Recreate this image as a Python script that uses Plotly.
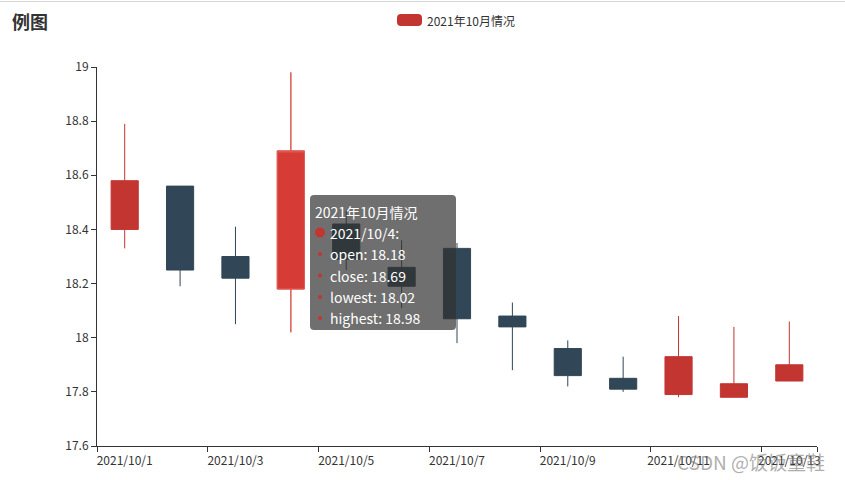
import plotly.graph_objects as go

# ---- data -------------------------------------------------------------
dates = [
    "2021/10/1", "2021/10/2", "2021/10/3", "2021/10/4", "2021/10/5",
    "2021/10/6", "2021/10/7", "2021/10/8", "2021/10/9", "2021/10/10",
    "2021/10/11", "2021/10/12", "2021/10/13",
]
open_prices = [18.40, 18.56, 18.30, 18.18, 18.42, 18.26, 18.33, 18.08, 17.96, 17.85, 17.79, 17.78, 17.84]
close_prices = [18.58, 18.25, 18.22, 18.69, 18.29, 18.19, 18.07, 18.04, 17.86, 17.81, 17.93, 17.83, 17.90]
lowest = [18.33, 18.19, 18.05, 18.02, 18.25, 18.11, 17.98, 17.88, 17.82, 17.80, 17.78, 17.78, 17.84]
highest = [18.79, 18.56, 18.41, 18.98, 18.47, 18.36, 18.35, 18.13, 17.99, 17.93, 18.08, 18.04, 18.06]
y_ticks = [17.6, 17.8, 18.0, 18.2, 18.4, 18.6, 18.8, 19.0]

series_name = "2021年10月情况"
title_text = "例图"
credit_text = "CSDN @饭饭童鞋"
focus = 3  # highlighted candle (tooltip shown for it)

# ---- layout constants -------------------------------------------------
W, H = 845, 480
L, R, T, B = 97, 28, 67, 32
UP, DOWN = "#c23531", "#314656"
UP_HI_FILL, UP_HI_LINE = "#d63b35", "#e5605b"
AXIS = "#333333"
FONT = "Microsoft YaHei, Noto Sans CJK SC, sans-serif"

idx = list(range(len(dates)))


def dx(px):
    """page x (px) -> pixel offset from plot-area left edge"""
    return px - L


def dy(py):
    """page y (px) -> pixel offset from plot-area top edge (up is positive)"""
    return T - py


def rrect(x0, y0, x1, y1, r):
    return (f"M{x0 + r},{y0} L{x1 - r},{y0} Q{x1},{y0} {x1},{y0 + r} "
            f"L{x1},{y1 - r} Q{x1},{y1} {x1 - r},{y1} L{x0 + r},{y1} "
            f"Q{x0},{y1} {x0},{y1 - r} L{x0},{y0 + r} Q{x0},{y0} {x0 + r},{y0} Z")


pix = dict(xref="paper", yref="paper", xsizemode="pixel", ysizemode="pixel",
           xanchor=0, yanchor=1)

fig = go.Figure()

fig.add_trace(go.Candlestick(
    x=idx, open=open_prices, high=highest, low=lowest, close=close_prices,
    name=series_name,
    increasing=dict(line=dict(color=UP, width=1), fillcolor=UP),
    decreasing=dict(line=dict(color=DOWN, width=1), fillcolor=DOWN),
    whiskerwidth=0, hoverinfo="skip", showlegend=False,
))

# emphasised candle under the pointer
fig.add_trace(go.Candlestick(
    x=[idx[focus]], open=[open_prices[focus]], high=[highest[focus]],
    low=[lowest[focus]], close=[close_prices[focus]],
    increasing=dict(line=dict(color=UP_HI_LINE, width=1), fillcolor=UP_HI_FILL),
    decreasing=dict(line=dict(color=UP_HI_LINE, width=1), fillcolor=UP_HI_FILL),
    whiskerwidth=0, hoverinfo="skip", showlegend=False,
))

shapes = []
annotations = []

# thin rule across the top of the page
shapes.append(dict(type="line", **pix, x0=dx(0), x1=dx(W), y0=dy(1.5), y1=dy(1.5),
                   line=dict(color="#d4d4d4", width=1)))

# title
annotations.append(dict(text=f"<b>{title_text}</b>", xref="paper", yref="paper",
                        x=0, y=1, xshift=dx(10), yshift=dy(21),
                        xanchor="left", yanchor="middle", showarrow=False,
                        font=dict(family=FONT, size=18, color=AXIS)))

# legend
shapes.append(dict(type="path", **pix, path=rrect(dx(397), dy(26), dx(422), dy(14), 4),
                   fillcolor=UP, line=dict(width=0)))
annotations.append(dict(text=series_name, xref="paper", yref="paper",
                        x=0, y=1, xshift=dx(425), yshift=dy(20),
                        xanchor="left", yanchor="middle", showarrow=False,
                        font=dict(family=FONT, size=12, color=AXIS)))

# tooltip for the highlighted candle
tip_left, tip_top, tip_right, tip_bottom = 310, 195, 456, 330
shapes.append(dict(type="path", **pix, layer="above",
                   path=rrect(dx(tip_left), dy(tip_bottom), dx(tip_right), dy(tip_top), 4),
                   fillcolor="rgba(50,50,50,0.7)", line=dict(width=0)))

tip_lines = [
    (series_name, 211.5, None),
    (f"{dates[focus]}:", 232.5, 5),
    (f"open: {open_prices[focus]:.2f}", 254, 2),
    (f"close: {close_prices[focus]:.2f}", 275.5, 2),
    (f"lowest: {lowest[focus]:.2f}", 297, 2),
    (f"highest: {highest[focus]:.2f}", 318, 2),
]
for text, yc, dot in tip_lines:
    x_text = 313 if dot is None else 328
    annotations.append(dict(text=text, xref="paper", yref="paper",
                            x=0, y=1, xshift=dx(x_text), yshift=dy(yc),
                            xanchor="left", yanchor="middle", showarrow=False,
                            font=dict(family=FONT, size=14, color="#ffffff")))
    if dot:
        shapes.append(dict(type="circle", **pix, layer="above",
                           x0=dx(320 - dot), x1=dx(320 + dot),
                           y0=dy(yc - dot), y1=dy(yc + dot),
                           fillcolor=UP, line=dict(width=0)))

# credit text at the lower right
annotations.append(dict(text=credit_text, xref="paper", yref="paper",
                        x=0, y=1, xshift=dx(675), yshift=dy(461.5),
                        xanchor="left", yanchor="middle", showarrow=False,
                        font=dict(family=FONT, size=19, color="rgba(120,120,120,0.6)")))

fig.update_layout(
    width=W, height=H, autosize=False,
    margin=dict(l=L, r=R, t=T, b=B, pad=0),
    paper_bgcolor="white", plot_bgcolor="white",
    boxgap=0.51, boxgroupgap=0, hovermode=False, showlegend=False,
    font=dict(family=FONT, size=12, color=AXIS),
    shapes=shapes, annotations=annotations,
    xaxis=dict(
        type="linear", range=[-0.5, len(dates) - 0.5],
        rangeslider=dict(visible=False),
        tickmode="array", tickvals=idx[::2], ticktext=dates[::2],
        ticks="", ticklabelstandoff=4, showgrid=False, zeroline=False,
        showline=True, linecolor=AXIS, linewidth=1,
        tickfont=dict(family=FONT, size=12, color=AXIS),
        minor=dict(tickmode="array",
                   tickvals=[i - 0.5 for i in idx[::2]] + [len(dates) - 0.5],
                   ticks="outside", ticklen=5, tickwidth=1, tickcolor=AXIS,
                   showgrid=False),
    ),
    yaxis=dict(
        range=[y_ticks[0], y_ticks[-1]],
        tickmode="array", tickvals=y_ticks, ticktext=[f"{v:g}" for v in y_ticks],
        ticks="outside", ticklen=5, tickwidth=1, tickcolor=AXIS,
        showgrid=False, zeroline=False,
        showline=True, linecolor=AXIS, linewidth=1,
        tickfont=dict(family=FONT, size=12, color=AXIS),
    ),
)

fig.write_html("out.html")
